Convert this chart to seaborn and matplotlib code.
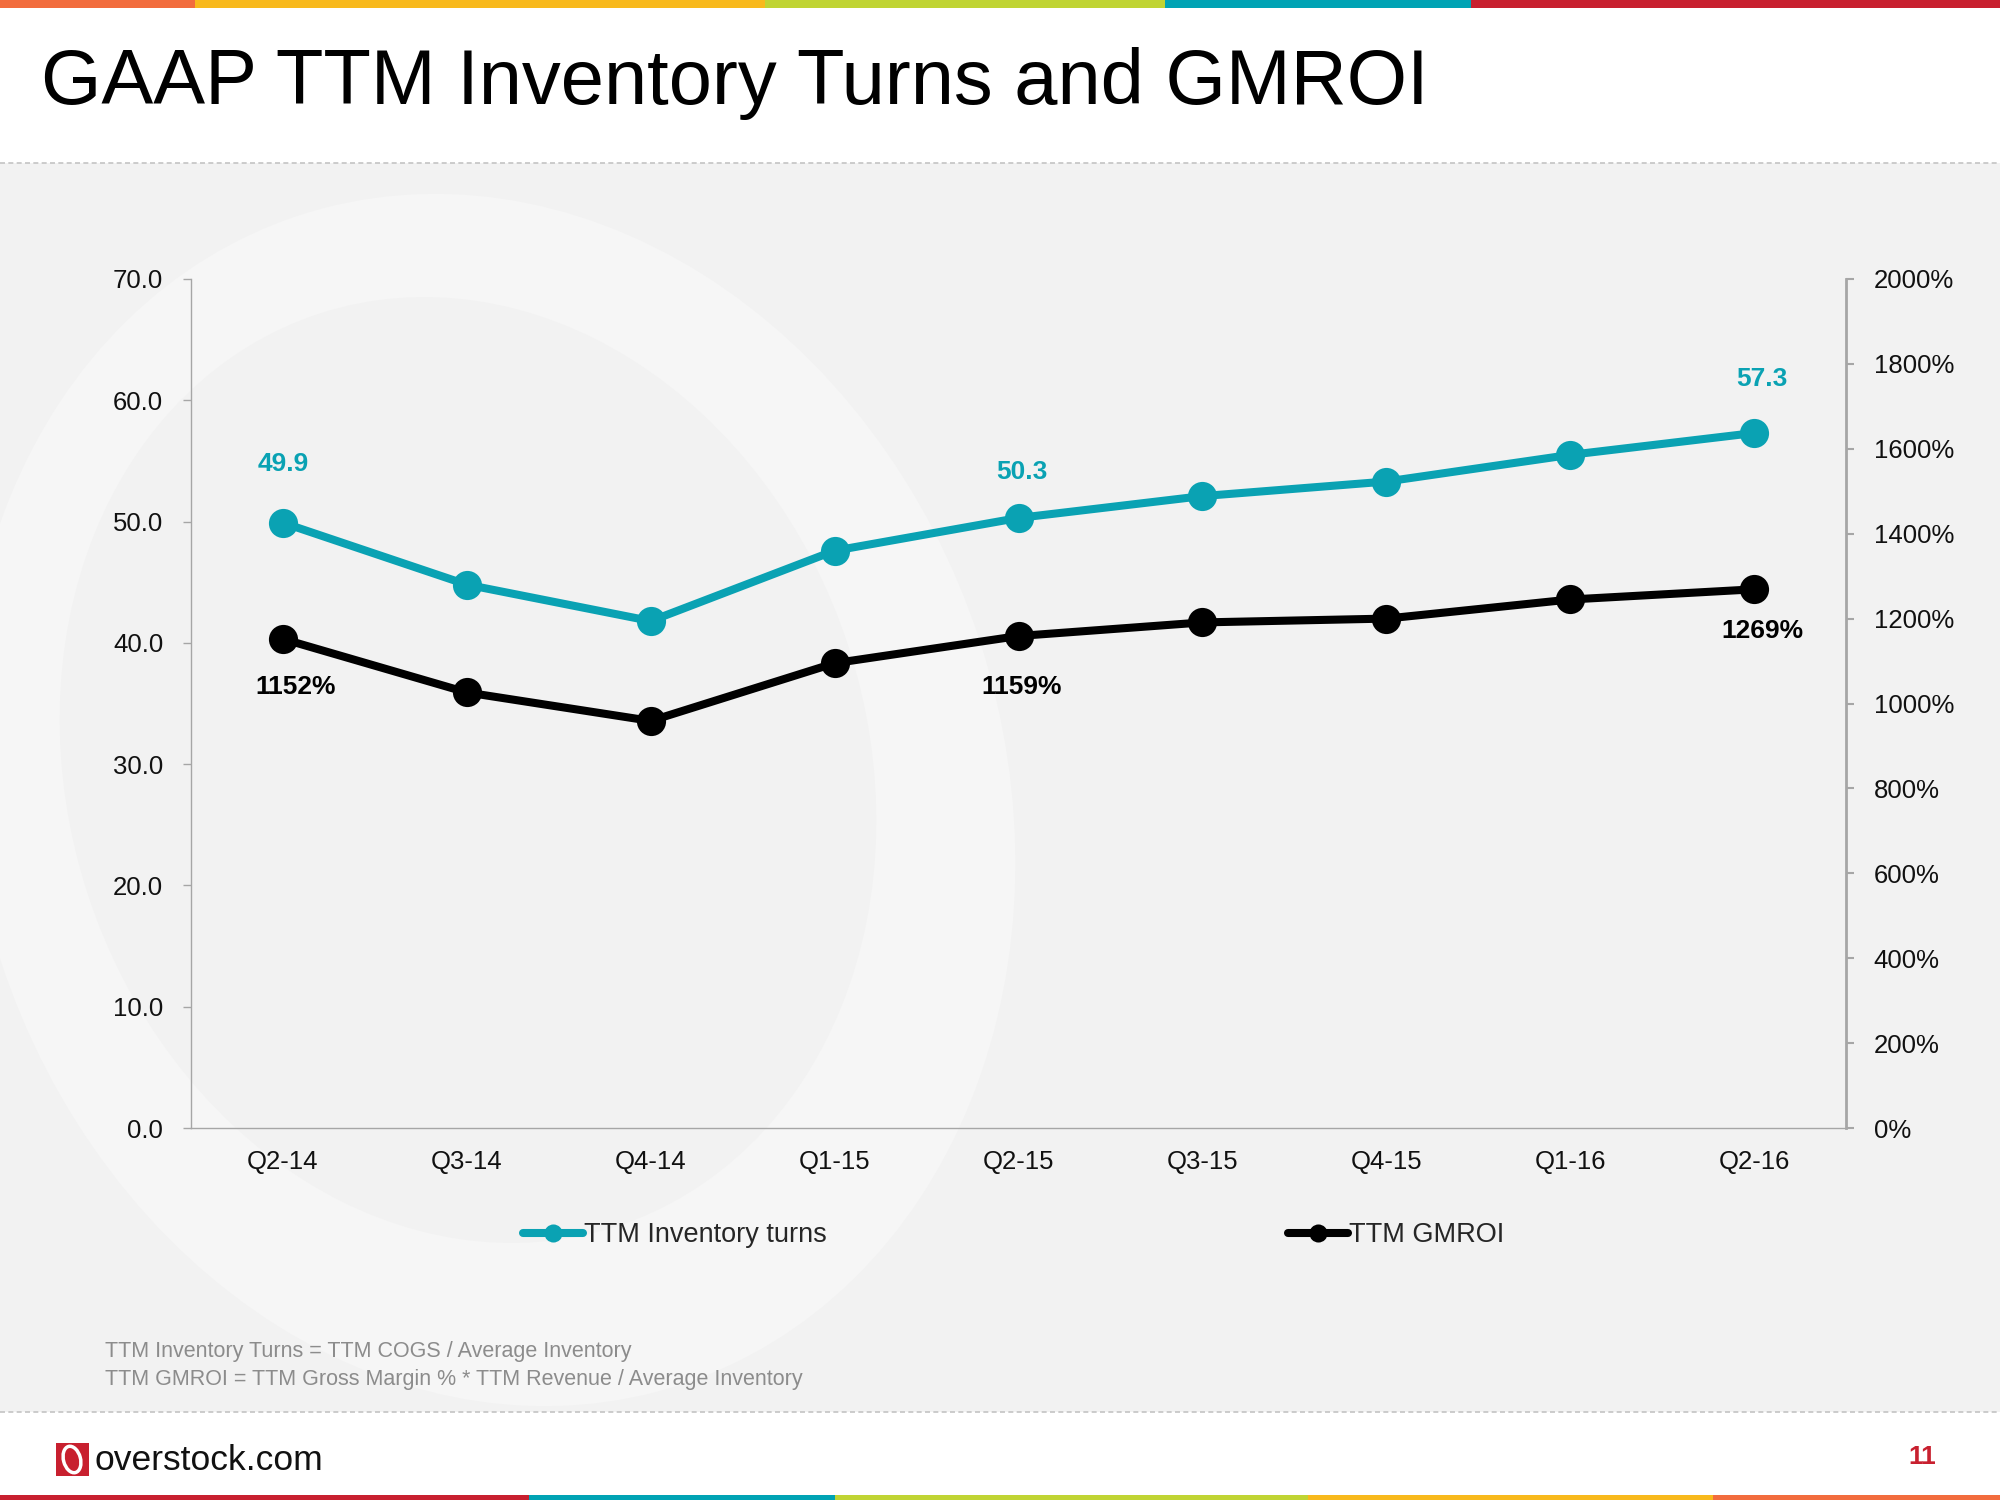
import numpy as np
import pandas as pd
import matplotlib
matplotlib.use("Agg")
import matplotlib.pyplot as plt
from matplotlib.patches import Rectangle, Ellipse
from matplotlib.lines import Line2D
import seaborn as sns

sns.set_style("white")
plt.rcParams["font.family"] = ["Liberation Sans", "DejaVu Sans"]

# data
quarters = ["Q2-14", "Q3-14", "Q4-14", "Q1-15", "Q2-15", "Q3-15", "Q4-15", "Q1-16", "Q2-16"]
inv_turns = [49.9, 44.8, 41.8, 47.6, 50.3, 52.1, 53.3, 55.5, 57.3]
gmroi = [1152, 1026, 959, 1095, 1159, 1191, 1200, 1245, 1269]
label_idx = [0, 4, 8]

TEAL = "#0aa2b3"
GRAY_AX = "#a6a6a6"
FS = 18.5

df = pd.DataFrame({"pos": np.arange(len(quarters)), "quarter": quarters,
                   "turns": inv_turns, "gmroi": gmroi})

fig = plt.figure(figsize=(20, 15), dpi=100)
fig.patch.set_facecolor("white")

# slide background band + faint "O"
bg = fig.add_axes([0, 0, 1, 1], zorder=-10)
bg.set_xlim(0, 2000)
bg.set_ylim(1500, 0)
bg.axis("off")
bg.add_patch(Rectangle((0, 163), 2000, 1249, color="#f2f2f2", lw=0))
bg.add_patch(Ellipse((490, 800), 1030, 1230, angle=-18, facecolor="#f6f6f6", lw=0))
bg.add_patch(Ellipse((468, 770), 800, 960, angle=-18, facecolor="#f2f2f2", lw=0))
clip = Rectangle((0, 163), 2000, 1249, transform=bg.transData)
for p in bg.patches[1:]:
    p.set_clip_path(clip)
bg.plot([0, 2000], [163, 163], color="#c4c4c4", lw=1.2, ls=(0, (3, 2)))
bg.plot([0, 2000], [1412, 1412], color="#c4c4c4", lw=1.2, ls=(0, (3, 2)))

# top and bottom colour strips
top_cols = [(0, 195, "#f26c3d"), (195, 765, "#f8b91c"), (765, 1165, "#c0d433"),
            (1165, 1471, "#00a3b4"), (1471, 2000, "#c8202f")]
for x0, x1, c in top_cols:
    bg.add_patch(Rectangle((x0, 0), x1 - x0, 8, color=c, lw=0))
bot_cols = [(0, 529, "#c8202f"), (529, 835, "#00a3b4"), (835, 1308, "#c0d433"),
            (1308, 1713, "#f8b91c"), (1713, 2000, "#f26c3d")]
for x0, x1, c in bot_cols:
    bg.add_patch(Rectangle((x0, 1495), x1 - x0, 5, color=c, lw=0))

# logo + page number
bg.add_patch(Rectangle((56, 1443), 33, 33, color="#c8202f", lw=0))
bg.add_patch(Ellipse((72, 1459.5), 17, 27, angle=-15, facecolor="none", edgecolor="white", lw=2.5))
bg.text(95, 1461, "overstock.com", fontsize=25.5, color="#111111", va="center", ha="left")
bg.text(1922, 1457, "11", fontsize=19, color="#c8202f", va="center", ha="center", weight="bold")

# title
bg.text(41, 83, "GAAP TTM Inventory Turns and GMROI", fontsize=56, va="center", ha="left",
        color="black")

# footnotes
bg.text(105, 1352, "TTM Inventory Turns = TTM COGS / Average Inventory", fontsize=15.5,
        color="#8c8c8c", va="center")
bg.text(105, 1379, "TTM GMROI = TTM Gross Margin % * TTM Revenue / Average Inventory", fontsize=15.5,
        color="#8c8c8c", va="center")

# main chart
ax = fig.add_axes([191 / 2000, 1 - 1128 / 1500, (1846 - 191) / 2000, (1128 - 279) / 1500])
ax.patch.set_alpha(0)
ax2 = ax.twinx()
ax2.patch.set_alpha(0)

sns.lineplot(data=df, x="pos", y="turns", ax=ax, color=TEAL, linewidth=5.8, marker="o",
             markersize=21, markeredgecolor=TEAL, markeredgewidth=0, zorder=3)
sns.lineplot(data=df, x="pos", y="gmroi", ax=ax2, color="black", linewidth=5.8, marker="o",
             markersize=21, markeredgecolor="black", markeredgewidth=0, zorder=3)

ax.set_xlim(-0.5, len(quarters) - 0.5)
ax.set_ylim(0, 70)
ax2.set_ylim(0, 2000)
ax.set_yticks(np.arange(0, 71, 10))
ax.set_yticklabels([f"{v:.1f}" for v in np.arange(0, 71, 10)])
ax2.set_yticks(np.arange(0, 2001, 200))
ax2.set_yticklabels([f"{v}%" for v in range(0, 2001, 200)])
ax.set_xticks(df["pos"])
ax.set_xticklabels(quarters)
ax.set_xticks(np.arange(0.5, len(quarters) - 1, 1), minor=True)
ax.set_xlabel("")
ax.set_ylabel("")
ax2.set_ylabel("")

ax.tick_params(axis="x", which="major", length=0, pad=16, labelsize=FS, labelcolor="#111111")
ax.tick_params(axis="x", which="minor", length=6, width=1, color=GRAY_AX, direction="out")
ax.tick_params(axis="y", length=6, width=1, color=GRAY_AX, pad=14, labelsize=FS,
               labelcolor="#111111", direction="out")
ax2.tick_params(axis="y", length=6, width=1.5, color=GRAY_AX, pad=14, labelsize=FS,
                labelcolor="#111111", direction="out")

for a in (ax, ax2):
    a.spines["top"].set_visible(False)
ax.spines["left"].set_color(GRAY_AX)
ax.spines["left"].set_linewidth(1)
ax.spines["bottom"].set_color(GRAY_AX)
ax.spines["bottom"].set_linewidth(1)
ax.spines["right"].set_visible(False)
ax2.spines["left"].set_visible(False)
ax2.spines["bottom"].set_visible(False)
ax2.spines["right"].set_color(GRAY_AX)
ax2.spines["right"].set_linewidth(2)

# data labels
turn_off = {0: (0, 59), 4: (3, 46), 8: (8, 54)}
gm_off = {0: (13, -48), 4: (3, -51), 8: (8, -42)}
for i in label_idx:
    ax.annotate(f"{inv_turns[i]:.1f}", (i, inv_turns[i]), xytext=turn_off[i],
                textcoords="offset pixels", ha="center", va="center",
                fontsize=19, weight="bold", color=TEAL)
    ax2.annotate(f"{gmroi[i]}%", (i, gmroi[i]), xytext=gm_off[i],
                 textcoords="offset pixels", ha="center", va="center",
                 fontsize=19, weight="bold", color="black")

# legend, two separate entries
h1 = Line2D([], [], color=TEAL, lw=5.8, marker="o", markersize=13, markeredgewidth=0)
h2 = Line2D([], [], color="black", lw=5.8, marker="o", markersize=13, markeredgewidth=0)
for h, lab, x in [(h1, "TTM Inventory turns", 523 / 2000), (h2, "TTM GMROI", 1288 / 2000)]:
    fig.legend([h], [lab], loc="center left", bbox_to_anchor=(x, 1 - 1235 / 1500),
               frameon=False, borderpad=0, borderaxespad=0, handlelength=2.2,
               handletextpad=0.05, fontsize=19.5)

fig.savefig("out.png", dpi=100)
